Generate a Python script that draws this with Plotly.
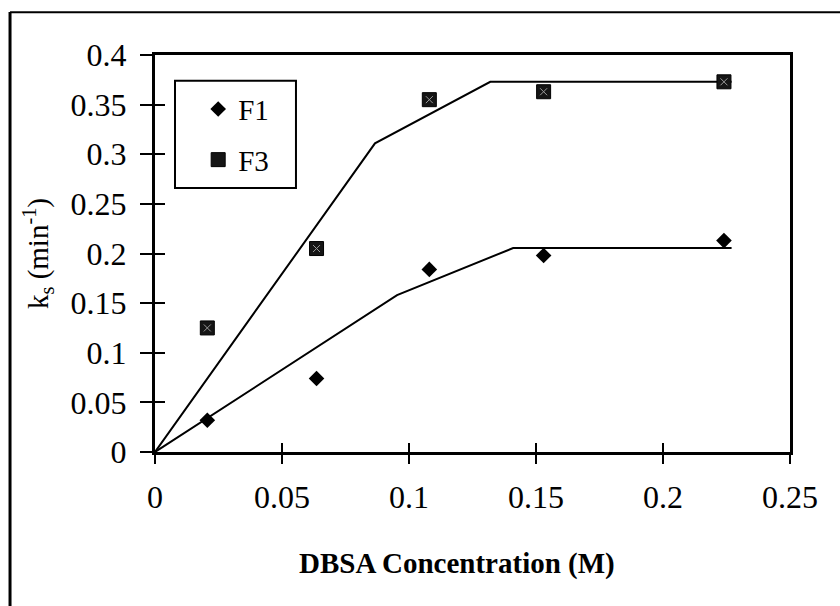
import plotly.graph_objects as go

# ---- data ----
conc = [0.0206, 0.0636, 0.108, 0.153, 0.224]
ks_f1 = [0.032, 0.074, 0.184, 0.198, 0.213]
ks_f3 = [0.125, 0.205, 0.355, 0.363, 0.373]

fit_f1_x = [0.0, 0.0953, 0.141, 0.227]
fit_f1_y = [0.0, 0.158, 0.2055, 0.2055]
fit_f3_x = [0.0, 0.0866, 0.132, 0.227]
fit_f3_y = [0.0, 0.311, 0.373, 0.373]

x_ticks = [0, 0.05, 0.1, 0.15, 0.2, 0.25]
x_tick_labels = ["0", "0.05", "0.1", "0.15", "0.2", "0.25"]
y_ticks = [0, 0.05, 0.1, 0.15, 0.2, 0.25, 0.3, 0.35, 0.4]
y_tick_labels = ["0", "0.05", "0.1", "0.15", "0.2", "0.25", "0.3", "0.35", "0.4"]

x_title = "<b>DBSA Concentration (M)</b>"
y_title = "k<sub>s</sub> (min<sup>-1</sup>)"

FONT = "Liberation Serif"

fig = go.Figure()

# fit lines
fig.add_trace(go.Scatter(x=fit_f1_x, y=fit_f1_y, mode="lines",
                         line=dict(color="black", width=2), showlegend=False,
                         hoverinfo="skip", cliponaxis=False))
fig.add_trace(go.Scatter(x=fit_f3_x, y=fit_f3_y, mode="lines",
                         line=dict(color="black", width=2), showlegend=False,
                         hoverinfo="skip", cliponaxis=False, xaxis="x2", yaxis="y2"))

# data points
fig.add_trace(go.Scatter(x=conc, y=ks_f1, mode="markers", name="F1",
                         legendgroup="a",
                         marker=dict(symbol="diamond", size=12, color="black",
                                     line=dict(color="black", width=0)),
                         cliponaxis=False))
fig.add_trace(go.Scatter(x=conc, y=ks_f3, mode="markers", name="F3",
                         legendgroup="b",
                         marker=dict(symbol="square", size=14, color="#151515",
                                     line=dict(color="black", width=1)),
                         cliponaxis=False, xaxis="x2", yaxis="y2"))
fig.add_trace(go.Scatter(x=conc, y=ks_f3, mode="markers", showlegend=False,
                         marker=dict(symbol="x-thin", size=7, color="#9a9a9a",
                                     line=dict(color="#9a9a9a", width=1)),
                         hoverinfo="skip", cliponaxis=False, xaxis="x2", yaxis="y2"))

axis_common = dict(showgrid=False, zeroline=False)

fig.update_layout(
    width=840, height=606,
    margin=dict(l=155, r=50, t=55, b=154, autoexpand=False),
    paper_bgcolor="white", plot_bgcolor="white",
    font=dict(family=FONT, color="black"),
    xaxis=dict(range=[0, 0.25], tickvals=x_ticks, ticktext=x_tick_labels,
               ticks="outside", ticklen=9, tickwidth=2, tickcolor="black",
               showline=True, linecolor="black", linewidth=3, mirror=True,
               tickfont=dict(family=FONT, size=32, color="black"),
               ticklabelstandoff=6,
               automargin=False, **axis_common),
    yaxis=dict(range=[0, 0.4], tickvals=y_ticks, ticktext=y_tick_labels,
               ticks="outside", ticklen=12, tickwidth=2, tickcolor="black",
               showline=True, linecolor="black", linewidth=3, mirror=True,
               tickfont=dict(family=FONT, size=32, color="black"),
               ticklabelstandoff=7,
               title=dict(text=y_title,
                          font=dict(family=FONT, size=29, color="black"),
                          standoff=14),
               automargin=False, **axis_common),
    xaxis2=dict(range=[0, 0.25], overlaying="x", anchor="y2", side="bottom",
                tickvals=x_ticks, ticks="inside", ticklen=9, tickwidth=2,
                tickcolor="black", showticklabels=False, showline=False,
                **axis_common),
    yaxis2=dict(range=[0, 0.4], overlaying="y", anchor="x2", side="left",
                tickvals=y_ticks, ticks="inside", ticklen=10, tickwidth=2,
                tickcolor="black", showticklabels=False, showline=False,
                **axis_common),
    legend=dict(x=0.068, y=0.928, xanchor="left", yanchor="top",
                bgcolor="rgba(0,0,0,0)", borderwidth=0,
                font=dict(family=FONT, size=29, color="black"),
                tracegroupgap=10, itemclick=False),
    showlegend=True,
    annotations=[
        dict(text=x_title, xref="paper", yref="paper",
             x=0.4756, y=-0.2796, xanchor="center", yanchor="middle",
             showarrow=False, font=dict(family=FONT, size=29, color="black")),
    ],
    shapes=[
        # legend box
        dict(type="rect", xref="paper", yref="paper",
             x0=0.0315, x1=0.222, y0=0.665, y1=0.935,
             line=dict(color="black", width=2), fillcolor="rgba(0,0,0,0)"),
        # outer frame (left and top edges)
        dict(type="line", xref="paper", yref="paper",
             x0=-0.2283, x1=-0.2283, y0=1.108, y1=-0.42,
             line=dict(color="black", width=3)),
        dict(type="line", xref="paper", yref="paper",
             x0=-0.2283, x1=1.12, y0=1.1075, y1=1.1075,
             line=dict(color="black", width=2)),
    ],
)

fig.write_html("out.html")
